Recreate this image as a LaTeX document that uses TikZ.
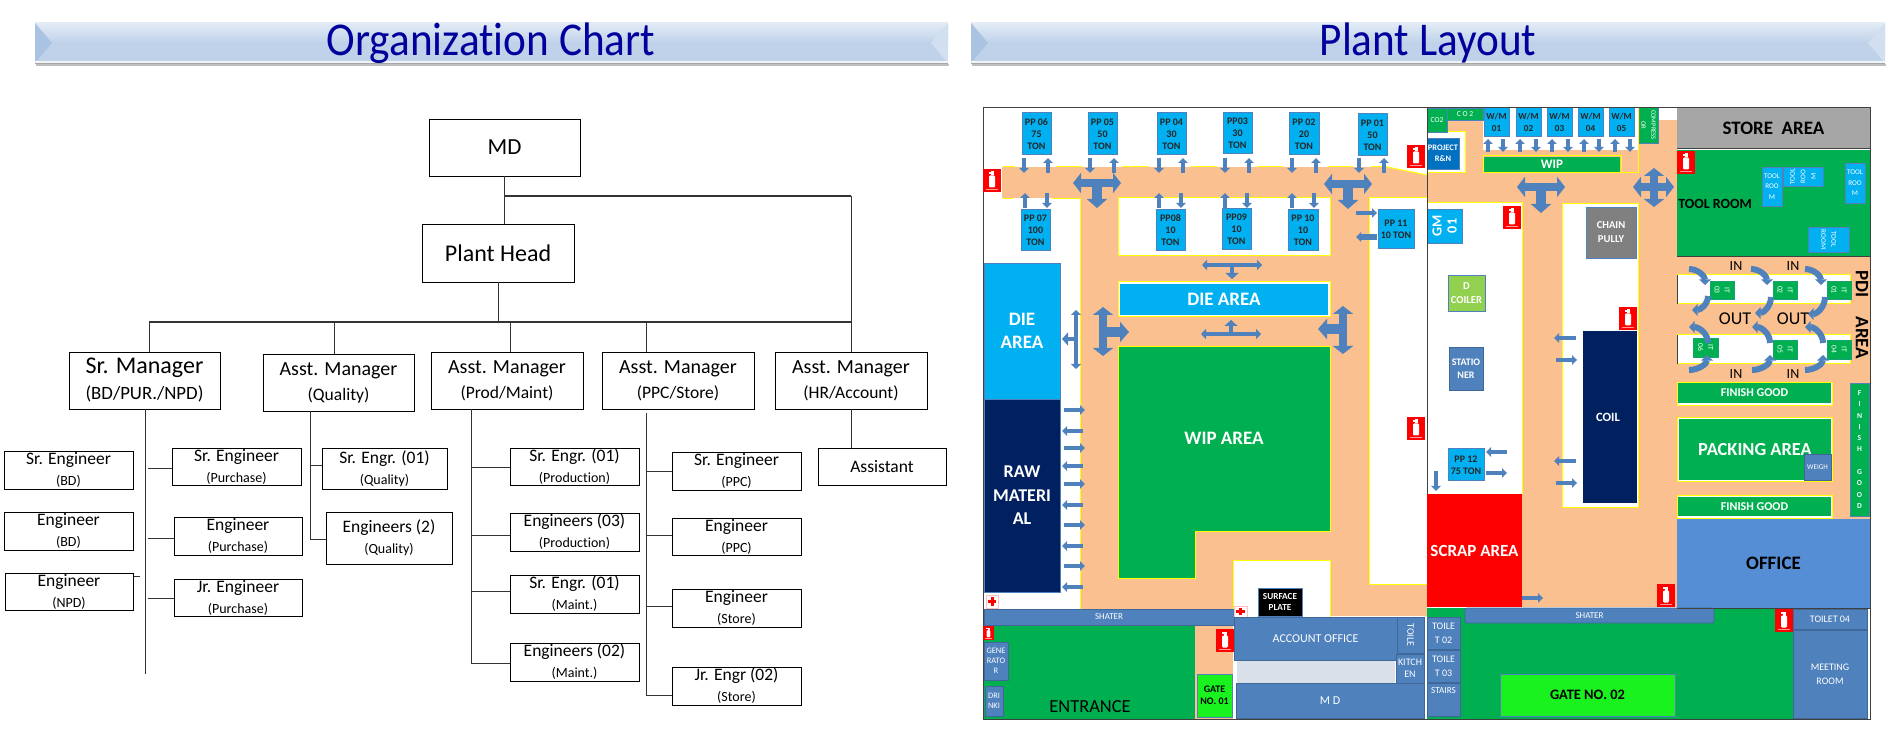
\documentclass[tikz,border=0pt]{standalone}
\usepackage{fontspec}
\setmainfont{Carlito}[Ligatures=NoCommon]
\usetikzlibrary{arrows.meta,calc,shadings}
\definecolor{peach}{HTML}{FAC090}
\definecolor{sky}{HTML}{00B0F0}
\definecolor{steel}{HTML}{4F81BD}
\definecolor{navy}{HTML}{002060}
\definecolor{grn}{HTML}{00B050}
\definecolor{gate}{HTML}{19F21F}
\definecolor{offc}{HTML}{558ED5}
\definecolor{titl}{HTML}{00009C}
\definecolor{bar}{HTML}{BFD2EA}
\definecolor{ylw}{HTML}{FFFF00}
\definecolor{frame}{HTML}{404040}
\definecolor{dcoil}{HTML}{92D050}
\definecolor{projc}{HTML}{0070C0}
\newcommand\zone[7]{\pgfmathsetmacro\zw{abs(#4-#2)*0.5}\pgfmathsetmacro\zh{abs(#5-#3)*0.5}\pgfmathsetmacro\zx{(#2+#4)/2}\pgfmathsetmacro\zy{(#3+#5)/2}\node[zbase,#6,minimum width=\zw pt,minimum height=\zh pt] (#1) at (\zx,\zy) {#7};}
\newcommand\two[2]{#1\\{\fontsize{7}{10.5}\selectfont (#2)}}
\newcommand\fsz[2]{\fontsize{#1}{#2}\selectfont}
\newcommand\titlebar[2]{%
  \fill[black!25] (#1+1,64) rectangle (#2+1,66);
  \shade[top color=white!55!bar,bottom color=bar] (#1,23) rectangle (#2,43);
  \fill[bar] (#1,43) rectangle (#2,63);
  \fill[bar!82!steel] (#1,23) -- (#1+17,43) -- (#1,63) -- cycle;
  \fill[bar!70!white] (#2,23) -- (#2-17,43) -- (#2,63) -- cycle;
  \fill[white!75!bar] (#1,61) rectangle (#2,63);
  \draw[black!35,line width=.5pt] (#1,63.8) -- (#2,63.8);
}
\newcommand\extg[3]{\begin{scope}[shift={(#1,#2)},scale=#3]
  \fill[red] (0,0) rectangle (18,23);
  \fill[white,rounded corners=.6pt] (6,6.5) rectangle (12,18.5);
  \fill[white] (7.8,2.5) rectangle (10.5,6.5);
  \fill[white] (5.5,3) rectangle (8,4.6);
  \fill[white!60!red] (3,20) rectangle (15,21.2);
\end{scope}}
\newcommand\aid[4]{\fill[white] (#1,#2) rectangle (#3,#4);\draw[white!75!red,line width=.4pt] (#1,#2) rectangle (#3,#4);
  \fill[red] ({#1+2},{(#2+#4)/2-1.5}) rectangle ({#3-2},{(#2+#4)/2+1.5});
  \fill[red] ({(#1+#3)/2-1.5},{#2+2}) rectangle ({(#1+#3)/2+1.5},{#4-2});}
\tikzset{
  zbase/.style={rectangle,inner sep=0pt,outer sep=0pt,align=center},
  orgbox/.style={draw=black,line width=.45pt,fill=white,font=\fsz{8.75}{10.5}},
  orgbig/.style={draw=black,line width=.45pt,fill=white,font=\fsz{12}{13}},
  orgline/.style={draw=black!80,line width=.45pt},
  ppbox/.style={fill=sky,draw=steel,line width=.5pt,font=\bfseries\fsz{5}{6},text=black!85},
  skybox/.style={fill=sky,draw=steel,line width=.4pt,text=white},
  stbox/.style={fill=steel,draw=steel!80!black,line width=.4pt,text=white,font=\fsz{5.5}{7.5}},
  grbox/.style={fill=grn,draw=steel,line width=.4pt,text=white},
  island/.style={fill=white,draw=ylw,line width=.5pt},
  sarr/.style={draw=steel,line width=2pt,-{Triangle[length=2.5pt,width=4.8pt]}},
  tharr/.style={draw=steel,line width=2pt,{Triangle[length=2.5pt,width=5pt]}-{Triangle[length=2.5pt,width=5pt]}},
  thstem/.style={draw=steel,line width=2.2pt,-{Triangle[length=3pt,width=6.5pt]}},
  bigh/.style={draw=steel,line width=4pt,{Triangle[length=4pt,width=10pt]}-{Triangle[length=4pt,width=10pt]}},
  bigs/.style={draw=steel,line width=5pt,-{Triangle[length=4.5pt,width=10pt]}},
  carr/.style={draw=steel,line width=3pt,-{Triangle[length=2.8pt,width=5.8pt]}},
}
\begin{document}
\begin{tikzpicture}[x=0.5pt,y=-0.5pt]
\useasboundingbox (0,0) rectangle (1890,732);
% ---------- title bars
\titlebar{35}{948}
\titlebar{971}{1885}
\node[text=titl,font=\fsz{23.5}{26},xscale=.92,transform shape] (t1) at (491,43) {Organization Chart};
\node[text=titl,font=\fsz{23.5}{26},xscale=.92,transform shape] (t2) at (1428,43) {Plant Layout};
% ---------- organisation chart
\zone{MD}{429}{119}{580}{176}{orgbox,font=\fsz{11.5}{13}}{MD}
\zone{PH}{422}{224}{574}{282}{orgbox,font=\fsz{12}{14}}{Plant Head}
\zone{SM}{69}{352}{220}{409}{orgbig}{Sr. Manager\\{\fsz{9.4}{11}(BD/PUR./NPD)}}
\zone{AQ}{263}{354}{414}{411}{orgbox,font=\fsz{10}{12.5}}{Asst. Manager\\{\fsz{8.75}{10}(Quality)}}
\zone{AP}{431}{352}{583}{409}{orgbox,font=\fsz{10}{12.5}}{Asst. Manager\\{\fsz{8.75}{10}(Prod/Maint)}}
\zone{AS}{602}{352}{754}{409}{orgbox,font=\fsz{10}{12.5}}{Asst. Manager\\{\fsz{8.75}{10}(PPC/Store)}}
\zone{HR}{775}{352}{927}{409}{orgbox,font=\fsz{10}{12.5}}{Asst. Manager\\{\fsz{8.75}{10}(HR/Account)}}
\zone{eA}{4}{451}{133}{489}{orgbox}{\two{Sr. Engineer}{BD}}
\zone{eB}{4}{512}{133}{550}{orgbox}{\two{Engineer}{BD}}
\zone{eC}{5}{573}{133}{610}{orgbox}{\two{Engineer}{NPD}}
\zone{pA}{172}{448}{301}{485}{orgbox}{\two{Sr. Engineer}{Purchase}}
\zone{pB}{174}{517}{302}{555}{orgbox}{\two{Engineer}{Purchase}}
\zone{pC}{174}{579}{302}{616}{orgbox}{\two{Jr. Engineer}{Purchase}}
\zone{qA}{322}{448}{447}{489}{orgbox}{\two{Sr. Engr. (01)}{Quality}}
\zone{qB}{326}{512}{452}{564}{orgbox}{\two{Engineers (2)}{Quality}}
\zone{mA}{510}{448}{639}{485}{orgbox}{\two{Sr. Engr. (01)}{Production}}
\zone{mB}{510}{513}{639}{551}{orgbox}{\two{Engineers (03)}{Production}}
\zone{mC}{510}{575}{639}{613}{orgbox}{\two{Sr. Engr. (01)}{Maint.}}
\zone{mD}{510}{643}{639}{681}{orgbox}{\two{Engineers (02)}{Maint.}}
\zone{sA}{672}{452}{801}{490}{orgbox}{\two{Sr. Engineer}{PPC}}
\zone{sB}{672}{518}{801}{555}{orgbox}{\two{Engineer}{PPC}}
\zone{sC}{672}{589}{801}{627}{orgbox}{\two{Engineer}{Store}}
\zone{sD}{672}{667}{801}{705}{orgbox}{\two{Jr. Engr (02)}{Store}}
\zone{hA}{818}{448}{946}{485}{orgbox}{Assistant}
% connectors
\coordinate (y196) at (0,196);
\coordinate (bus) at (0,322);
\coordinate (mdj) at (MD.south |- y196);
\coordinate (hrj) at (HR.north |- y196);
\draw[orgline] (MD.south) -- (MD.south |- PH.north);
\draw[orgline,line width=.7pt] (mdj) -- (hrj);
\draw[orgline] (hrj) -- (HR.north);
\draw[orgline] (PH.south) -- (PH.south |- bus);
\coordinate (busL) at (149,322);
\coordinate (busQ) at (334,322);
\coordinate (busP) at (510,322);
\coordinate (busS) at (646,322);
\draw[orgline,line width=.7pt] (busL) -- (HR.north |- bus);
\draw[orgline] (busL) -- (busL |- SM.north);
\draw[orgline] (busQ) -- (busQ |- AQ.north);
\draw[orgline] (busP) -- (busP |- AP.north);
\draw[orgline] (busS) -- (busS |- AS.north);
\coordinate (smEnd) at (145,674);
\coordinate (smTop) at (145,409);
\draw[orgline] (smTop) -- (smEnd);
\coordinate (j1) at (148,468);\coordinate (j2) at (148,538);\coordinate (j3) at (148,598);
\draw[orgline] (j1) -- (j1 -| pA.west);
\draw[orgline] (j2) -- (j2 -| pB.west);
\draw[orgline] (j3) -- (j3 -| pC.west);
\coordinate (tk) at (134,576);\coordinate (tk2) at (140,576);
\draw[orgline] (tk) -- (tk2);
\coordinate (qT) at (310,411);\coordinate (qa) at (310,465);\coordinate (qb) at (310,539);
\draw[orgline] (qT) -- (qb) -- (qb -| qB.west);
\draw[orgline] (qa) -- (qa -| qA.west);
\coordinate (mT) at (471,409);\coordinate (ma) at (471,467);\coordinate (mb) at (471,535);\coordinate (mc) at (471,591);\coordinate (md) at (471,663);
\draw[orgline] (mT) -- (md) -- (md -| mD.west);
\draw[orgline] (ma) -- (ma -| mA.west);
\draw[orgline] (mb) -- (mb -| mB.west);
\draw[orgline] (mc) -- (mc -| mC.west);
\coordinate (sT) at (646,413);\coordinate (sa) at (646,471);\coordinate (sb) at (646,535);\coordinate (sc) at (646,606);\coordinate (sd) at (646,695);
\draw[orgline] (sT) -- (sd) -- (sd -| sD.west);
\draw[orgline] (sa) -- (sa -| sA.west);
\draw[orgline] (sb) -- (sb -| sB.west);
\draw[orgline] (sc) -- (sc -| sC.west);
\draw[orgline] (HR.south) -- (HR.south |- hA.north);
% ---------- plant: floor
\fill[peach] (1002,167) rectangle (1387,198);
\fill[peach] (1387,167) -- (1427,175) -- (1427,205) -- (1369,198) -- (1387,198) -- cycle;
\fill[peach] (1080,198) rectangle (1369,609);
\fill[peach] (1330,584) rectangle (1427,616);
\fill[peach] (1195,625) rectangle (1233,719);
\fill[peach] (1427,173) rectangle (1677,203);
\fill[peach] (1447,120) rectangle (1677,173);
\fill[peach] (1522,203) rectangle (1677,607);
\fill[peach] (1677,257) rectangle (1870,519);
\fill[white] (1483,108) rectangle (1638,150);
\draw[ylw,line width=.5pt] (1483,173) -- (1638,173) -- (1638,108);
\draw[ylw,line width=.5pt] (1677,108) -- (1677,149);
\draw[ylw,line width=.5pt] (1080,198) -- (1080,609);
\draw[ylw,line width=.5pt] (1427,203) -- (1522,203) -- (1522,494);
\draw[ylw,line width=.5pt] (1387,167) -- (1427,175);
\draw[ylw,line width=.5pt] (1369,198) -- (1427,205);
\foreach \a/\b in {1003/1015,1056/1082,1122/1149,1191/1217,1257/1283,1328/1353,1371/1387}
  \draw[ylw,line width=.8pt] (\a,166.5) -- (\b,166.5);
\foreach \a/\b in {1003/1013,1052/1080,1118/1144,1189/1215,1255/1282}
  \draw[ylw,line width=.8pt] (\a,198.5) -- (\b,198.5);
% islands
\draw[island] (1118,198) rectangle (1330,256);
\draw[island] (1369,198) rectangle (1427,584);
\draw[island] (1233,560) rectangle (1330,617);
\draw[island] (1427,132) rectangle (1465,173);
\draw[island] (1562,204) rectangle (1638,507);
\draw[island,fill=grn] (1118,347) -- (1330,347) -- (1330,531) -- (1195,531) -- (1195,578) -- (1118,578) -- cycle;
\node[text=white,font=\bfseries\fsz{9.5}{12}] (wa) at (1224,438) {WIP AREA};
\draw[island] (1118,282) rectangle (1330,317);
\zone{die1}{1120}{284}{1328}{315}{fill=sky,text=white,font=\bfseries\fsz{9.5}{12}}{DIE AREA}
\zone{die2}{984}{263}{1060}{399}{fill=sky,draw=steel,line width=.3pt,text=white,font=\bfseries\fsz{9.5}{11.8}}{DIE\\AREA}
\zone{raw}{984}{399}{1060}{592}{fill=navy,draw=steel,line width=.3pt,text=white,font=\bfseries\fsz{9}{11.8}}{RAW\\MATERI\\AL}
% top row machines
\zone{pp6}{1022}{113}{1051}{155}{ppbox}{PP 06\\75\\TON}
\zone{pp5}{1088}{113}{1117}{155}{ppbox}{PP 05\\50\\TON}
\zone{pp4}{1157}{113}{1186}{155}{ppbox}{PP 04\\30\\TON}
\zone{pp3}{1223}{113}{1252}{154}{ppbox}{PP03\\30\\TON}
\zone{pp2}{1289}{113}{1319}{155}{ppbox}{PP 02\\20\\TON}
\zone{pp1}{1358}{114}{1387}{156}{ppbox}{PP 01\\50\\TON}
\zone{pp7}{1021}{210}{1050}{251}{ppbox}{PP 07\\100\\TON}
\zone{pp8}{1156}{210}{1185}{251}{ppbox}{PP08\\10\\TON}
\zone{pp9}{1222}{209}{1251}{250}{ppbox}{PP09\\10\\TON}
\zone{pp10}{1288}{210}{1318}{251}{ppbox}{PP 10\\10\\TON}
\zone{pp11}{1378}{210}{1414}{249}{ppbox}{PP 11\\10 TON}
\foreach \d/\u in {1024/1048,1090/1114,1159/1183,1225/1249,1292/1316,1359/1384}{
  \draw[sarr] (\d,158) -- (\d,173);
  \draw[sarr] (\u,173) -- (\u,158);}
\foreach \u/\d in {1025/1047,1159/1181,1225/1247,1292/1314}{
  \draw[sarr] (\u,208) -- (\u,193);
  \draw[sarr] (\d,193) -- (\d,208);}
\draw[sarr,line width=1.6pt] (1356,213) -- (1377,213);
\draw[sarr,line width=2.6pt] (1377,237) -- (1356,237);
% big arrows
\draw[bigs] (1097,183) -- (1097,208);\draw[bigh] (1073,183) -- (1121,183);
\draw[bigs] (1348,184) -- (1348,209);\draw[bigh] (1324,184) -- (1372,184);
\draw[bigs] (1541,187) -- (1541,213);\draw[bigh] (1517,187) -- (1565,187);
\draw[bigh] (1633,187) -- (1674,187);\draw[bigh] (1654,168) -- (1654,207);
\draw[thstem] (1232,265) -- (1232,279);\draw[tharr] (1202,265) -- (1262,265);
\draw[thstem] (1231,334) -- (1231,320);\draw[tharr] (1201,334) -- (1261,334);
\draw[bigs] (1103,332) -- (1129,332);\draw[bigh] (1103,307) -- (1103,356);
\draw[bigs] (1343,329) -- (1318,329);\draw[bigh] (1343,306) -- (1343,354);
\draw[thstem] (1076,339) -- (1062,339);\draw[tharr] (1076,310) -- (1076,369);
\foreach \y in {410,448,484,525,566}\draw[sarr] (1064,\y) -- ++(21,0);
\foreach \y in {431,466,505,546,587}\draw[sarr] (1083,\y) -- ++(-21,0);
% upper middle
\zone{co1}{1427}{108}{1447}{132}{grbox,font=\fsz{3.8}{5}}{CO2}
\zone{co2}{1447}{108}{1483}{120}{grbox,font=\fsz{3.8}{5}}{C O 2}
\zone{proj}{1427}{138}{1459}{169}{fill=projc,draw=steel,line width=.3pt,text=white,font=\bfseries\fsz{4.2}{5.4}}{PROJECT\\R\&N}
\foreach \n/\a/\b/\t in {w1/1484/1509/01,w2/1516/1541/02,w3/1547/1572/03,w4/1578/1603/04,w5/1609/1634/05}{
  \zone{\n}{\a}{108}{\b}{137}{ppbox,font=\bfseries\fsz{4.6}{5.8}}{W/M\\\t}}
\foreach \u/\d in {1488/1503,1520/1536,1552/1568,1584/1599,1615/1630}{
  \draw[sarr,line width=1.8pt] (\u,152) -- (\u,139);
  \draw[sarr,line width=1.8pt] (\d,139) -- (\d,152);}
\draw[ylw,line width=.5pt] (1483,156) rectangle (1621,173);
\zone{wipb}{1484}{157}{1620}{172}{fill=grn,text=white,font=\bfseries\fsz{6.5}{8}}{WIP}
\zone{comp}{1639}{107}{1658}{143}{grbox}{}
\node[rotate=-90,align=center,text=white,font=\fsz{3.3}{5}] (compt) at (comp) {COMPRESS\\OR};
% right block
\zone{store}{1677}{108}{1870}{149}{fill=black!35,text=black,font=\bfseries\fsz{9.5}{12}}{STORE~ AREA}
\zone{tool}{1677}{150}{1870}{257}{fill=grn}{}
\node[font=\bfseries\fsz{7}{9}] (toolt) at (1715,204) {TOOL ROOM};
\zone{tr1}{1762}{167}{1782}{206}{skybox,font=\fsz{3.6}{5.2}}{TOOL\\ROO\\M}
\zone{tr2}{1783}{167}{1823}{186}{skybox}{}
\node[rotate=90,align=center,text=white,font=\fsz{3.6}{5.2}] (tr2t) at (tr2) {TOOL\\ROO\\M};
\zone{tr3}{1845}{163}{1865}{203}{skybox,font=\fsz{3.6}{5.2}}{TOOL\\ROO\\M}
\zone{tr4}{1808}{227}{1849}{252}{skybox}{}
\node[rotate=-90,align=center,text=white,font=\fsz{3.6}{5.2}] (tr4t) at (tr4) {TOOL\\ROOM};
% PDI strips
\fill[white] (1677,275) rectangle (1850,304);
\draw[ylw,line width=.5pt] (1677,275) -- (1850,275) -- (1850,304) -- (1677,304);
\draw[frame,line width=.5pt] (1677,275) -- (1677,304);
\fill[white] (1677,335) rectangle (1850,364);
\draw[ylw,line width=.5pt] (1677,335) -- (1850,335) -- (1850,364) -- (1677,364);
\draw[frame,line width=.5pt] (1677,335) -- (1677,364);
\foreach \n/\a/\b/\yy/\yz/\t in {i3/1710/1734/281/299/03,i2/1773/1797/281/299/02,i1/1827/1851/281/299/01,i6/1693/1718/338/357/06,i5/1773/1797/340/359/05,i4/1827/1851/340/359/04}{
  \zone{\n}{\a}{\yy}{\b}{\yz}{grbox,draw=grn!70!steel}{}
  \node[rotate=-90,align=center,text=white,font=\fsz{3.8}{5}] (\n t) at (\n) {IT\\\t};}
\foreach \a/\b in {1689/1705,1751/1767,1805/1821}\draw[carr] (\a,269) to[out=0,in=90] (\b,285);
\draw[carr] (1708,296) to[out=-90,in=0] (1692,310);
\draw[carr] (1771,297) to[out=-90,in=0] (1755,313);
\draw[carr] (1825,297) to[out=-90,in=0] (1808,314);
\draw[carr] (1708,343) to[out=90,in=0] (1689,327);
\draw[carr] (1770,343) to[out=90,in=0] (1752,327);
\draw[carr] (1823,343) to[out=90,in=0] (1805,327);
\draw[carr] (1689,370) to[out=0,in=-90] (1707,355);
\draw[carr] (1752,370) to[out=0,in=-90] (1770,355);
\draw[carr] (1805,370) to[out=0,in=-90] (1823,355);
\foreach \n/\x/\y/\t/\s in {la/1736/266/IN/7,lb/1793/266/IN/7,lc/1735/319/OUT/9,ld/1793/319/OUT/9,le/1736/374/IN/7,lf/1793/374/IN/7}
  \node[font=\fsz{\s}{10}] (\n) at (\x,\y) {\t};
\node[rotate=-90,font=\bfseries\fsz{9.5}{12}] (pdi) at (1862,315) {PDI\quad AREA};
% middle zone
\zone{gm}{1427}{209}{1462}{243}{skybox}{}
\node[rotate=90,align=center,text=white,font=\bfseries\fsz{7}{7.5}] (gmt) at (gm) {GM\\01};
\zone{coil1}{1448}{275}{1485}{311}{fill=dcoil,draw=steel,line width=.3pt,text=white,font=\bfseries\fsz{5.3}{7.2}}{D\\COILER}
\zone{stat}{1449}{347}{1483}{390}{stbox,font=\bfseries\fsz{5}{6.5}}{STATIO\\NER}
\zone{chain}{1586}{207}{1636}{258}{fill=black!50,draw=steel,line width=.3pt,text=white,font=\bfseries\fsz{5.3}{7}}{CHAIN\\PULLY}
\zone{coil}{1582}{331}{1637}{503}{fill=navy,draw=white,line width=.5pt,text=white,font=\bfseries\fsz{6.3}{8}}{}
\node[text=white,font=\bfseries\fsz{6.3}{8}] (coilt) at (1608,417) {COIL};
\draw[sarr] (1576,338) -- (1554,338);
\draw[sarr] (1556,360) -- (1577,360);
\draw[sarr] (1576,461) -- (1554,461);
\draw[sarr] (1556,483) -- (1577,483);
\zone{pp12}{1448}{449}{1484}{481}{ppbox}{PP 12\\75 TON}
\draw[sarr] (1507,452) -- (1486,452);
\draw[sarr] (1486,473) -- (1507,473);
\draw[sarr] (1436,471) -- (1436,491);
\zone{scrap}{1427}{494}{1522}{607}{fill=red,text=white,font=\bfseries\fsz{8.5}{12}}{SCRAP AREA}
\draw[sarr] (1522,598) -- (1543,598);
% finish / packing
\draw[island,line width=.5pt] (1677,383) rectangle (1832,406);
\zone{fg1}{1678}{383}{1831}{403}{fill=grn,text=white,font=\bfseries\fsz{6}{8}}{FINISH GOOD}
\draw[island,line width=.5pt] (1677,418) rectangle (1832,482);
\zone{pack}{1679}{419}{1831}{480}{fill=grn,text=white,font=\bfseries\fsz{9.2}{12}}{PACKING AREA}
\zone{wei}{1804}{454}{1831}{480}{stbox,font=\fsz{3.6}{5}}{WEIGH}
\draw[island,line width=.5pt] (1677,495) rectangle (1832,518);
\zone{fg2}{1678}{497}{1831}{516}{fill=grn,text=white,font=\bfseries\fsz{6}{8}}{FINISH GOOD}
\zone{fgv}{1850}{383}{1869}{516}{fill=grn,draw=steel,line width=.3pt,text=white,font=\bfseries\fsz{3.8}{5.65}}{F\\I\\N\\I\\S\\H\\\ \\G\\O\\O\\D}
\zone{off}{1677}{519}{1870}{608}{fill=offc,font=\bfseries\fsz{9.5}{12}}{OFFICE}
% bottom band
\zone{ent}{984}{626}{1195}{719}{fill=grn}{}
\node[font=\fsz{9.2}{12}] (entt) at (1090,707) {ENTRANCE};
\zone{shu1}{984}{609}{1234}{625}{stbox,font=\fsz{4.5}{5}}{SHATER}
\aid{986}{595}{998}{608}
\aid{1234}{606}{1247}{617}
\zone{gen}{984}{642}{1008}{680}{stbox,font=\fsz{4.2}{5}}{GENE\\RATO\\R}
\zone{dri}{985}{686}{1003}{716}{stbox,font=\fsz{4.2}{5}}{DRI\\NKI}
\zone{g1}{1197}{674}{1232}{717}{fill=gate,draw=steel,line width=.3pt,font=\bfseries\fsz{5}{6}}{GATE\\NO. 01}
\zone{sp}{1258}{588}{1302}{616}{fill=black,draw=steel,line width=.3pt,text=white,font=\bfseries\fsz{4.6}{5.8}}{SURFACE\\PLATE}
\zone{acc}{1234}{617}{1397}{660}{stbox,font=\fsz{6}{8}}{ACCOUNT OFFICE}
\zone{toi}{1397}{617}{1424}{653}{stbox}{}
\node[rotate=-90,text=white,font=\fsz{5}{7}] (toit) at (toi) {TOILE};
\zone{kit}{1396}{654}{1424}{683}{stbox,font=\fsz{5}{6}}{KITCH\\EN}
\fill[steel!15!white!95!black] (1237,661) rectangle (1395,683);
\zone{mdr}{1236}{683}{1424}{718}{stbox,font=\fsz{6}{8}}{M D}
\zone{gr2}{1427}{608}{1793}{719}{fill=grn}{}
\zone{shu2}{1465}{608}{1714}{623}{stbox,rounded corners=1pt,font=\fsz{4.5}{5}}{SHATER}
\zone{to2}{1427}{617}{1460}{649}{stbox,font=\fsz{5}{7}}{TOILE\\T 02}
\zone{to3}{1427}{650}{1460}{682}{stbox,font=\fsz{5}{7}}{TOILE\\T 03}
\zone{stair}{1427}{683}{1460}{716}{stbox,font=\fsz{4.6}{6}}{STAIRS\\[2.5pt]\ }
\zone{g2}{1500}{674}{1675}{716}{fill=gate,draw=steel,line width=.3pt,font=\bfseries\fsz{7.2}{9}}{GATE NO. 02}
\zone{t4}{1793}{609}{1867}{629}{stbox,font=\fsz{5}{7}}{TOILET 04}
\zone{meet}{1793}{630}{1867}{718}{stbox,font=\fsz{5}{7}}{MEETING\\ROOM}
% frame
\draw[frame,line width=.5pt] (1870,108) -- (983,108) -- (983,719) -- (1870,719) -- cycle;
\draw[frame,line width=.5pt] (1427,108) -- (1427,494);
\draw[frame,line width=.5pt] (1677,149) -- (1870,149);
\draw[frame,line width=.5pt] (1677,257) -- (1870,257);
\draw[frame,line width=.5pt] (1677,608) -- (1870,608);
% extinguishers
\extg{983}{169}{1}
\extg{1407}{145}{1}
\extg{1503}{206}{1}
\extg{1677}{151}{1}
\extg{1619}{307}{1}
\extg{1407}{417}{1}
\extg{983}{626}{.62}
\extg{1216}{629}{1}
\extg{1657}{584}{1}
\extg{1775}{609}{1}
\end{tikzpicture}
\end{document}
